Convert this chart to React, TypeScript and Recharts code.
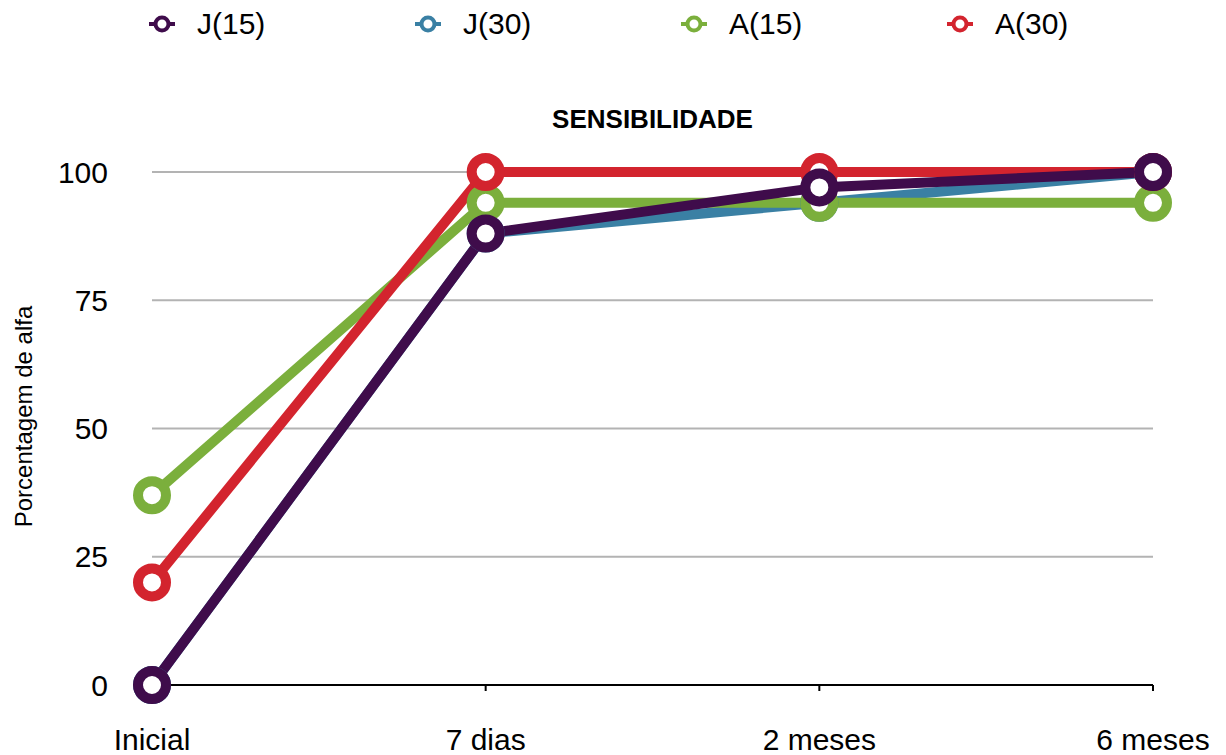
import { CartesianGrid, Legend, Line, LineChart, XAxis, YAxis } from "recharts";

const periods = ["Inicial", "7 dias", "2 meses", "6 meses"];
const j15 = [0, 88, 97, 100];
const j30 = [0, 88, 94, 100];
const a15 = [37, 94, 94, 94];
const a30 = [20, 100, 100, 100];
const yTicks = [0, 25, 50, 75, 100];

const FONT = '"Liberation Sans", Arial, Helvetica, sans-serif';

// legend order as in the original
const series = [
  { key: "J(15)", values: j15, color: "#3F0C4B" },
  { key: "J(30)", values: j30, color: "#3A80A4" },
  { key: "A(15)", values: a15, color: "#7BAF3C" },
  { key: "A(30)", values: a30, color: "#D3242E" },
];
// draw order: purple ends up on top
const drawOrder = ["J(30)", "A(15)", "A(30)", "J(15)"];

const rows = periods.map((p, i) => {
  const row: Record<string, string | number> = { period: p };
  series.forEach((s) => (row[s.key] = s.values[i]));
  return row;
});

function LegendRow() {
  return (
    <div style={{ display: "flex", height: 48, alignItems: "center", paddingLeft: 149, fontFamily: FONT, fontSize: 30, color: "#000" }}>
      {series.map((s) => (
        <div key={s.key} style={{ width: 266, display: "flex", alignItems: "center" }}>
          <svg width={26} height={20} style={{ marginRight: 22 }}>
            <line x1={0} y1={10} x2={26} y2={10} stroke={s.color} strokeWidth={4} />
            <circle cx={13} cy={10} r={6.5} fill="#fff" stroke={s.color} strokeWidth={4} />
          </svg>
          <span>{s.key}</span>
        </div>
      ))}
    </div>
  );
}

export default function App() {
  return (
    <div style={{ position: "absolute", left: 0, top: 0, width: 1226, height: 755, background: "#fff" }}>
      <LineChart width={1226} height={755} data={rows} margin={{ top: 124, right: 73, bottom: 0, left: 0 }}>
        <Legend verticalAlign="top" align="left" content={() => <LegendRow />} wrapperStyle={{ top: 0, left: 0, width: 1226 }} />
        <CartesianGrid vertical={false} stroke="#b3b3b3" strokeWidth={2} />
        <XAxis
          dataKey="period"
          height={70}
          axisLine={{ stroke: "#000", strokeWidth: 2 }}
          tickLine={{ stroke: "#000", strokeWidth: 2 }}
          tickSize={6}
          tickMargin={38}
          tick={{ fill: "#000", fontSize: 30, fontFamily: FONT }}
          interval={0}
        />
        <YAxis
          domain={[0, 100]}
          ticks={yTicks}
          width={152}
          axisLine={false}
          tickLine={false}
          tickMargin={38}
          tick={{ fill: "#000", fontSize: 30, fontFamily: FONT }}
          label={{
            content: (props: any) => {
              const vb = props.viewBox || { x: 0, y: 0, width: 152, height: 0 };
              const cx = vb.x + 23;
              const cy = vb.y + vb.height / 2 - 12;
              return (
                <text
                  x={cx}
                  y={cy}
                  transform={`rotate(-90 ${cx} ${cy})`}
                  textAnchor="middle"
                  dominantBaseline="central"
                  fontFamily={FONT}
                  fontSize={24}
                  fill="#000"
                >
                  Porcentagem de alfa
                </text>
              );
            },
          }}
        />
        {drawOrder.map((k) => {
          const s = series.find((x) => x.key === k)!;
          return (
            <Line
              key={k}
              type="linear"
              dataKey={k}
              stroke={s.color}
              strokeWidth={10}
              dot={{ r: 14, strokeWidth: 10, fill: "#fff", stroke: s.color }}
              activeDot={false}
              isAnimationActive={false}
            />
          );
        })}
      </LineChart>
      <div
        style={{
          position: "absolute",
          top: 104,
          left: 152,
          width: 1001,
          textAlign: "center",
          fontFamily: FONT,
          fontWeight: "bold",
          fontSize: 26,
          color: "#000",
        }}
      >
        SENSIBILIDADE
      </div>
    </div>
  );
}
